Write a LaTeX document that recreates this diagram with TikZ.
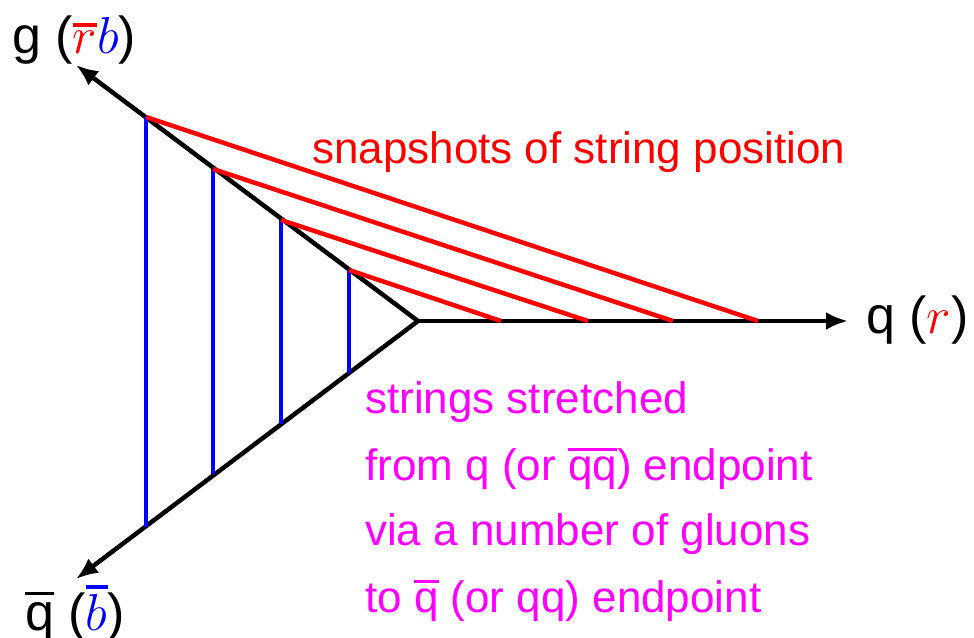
\RequirePackage{fix-cm}
\documentclass[tikz,border=0pt]{standalone}
\usepackage{fontspec}
\setmainfont{Liberation Sans}
\usetikzlibrary{arrows.meta}
\definecolor{pink}{RGB}{255,0,255}
\definecolor{sred}{RGB}{255,0,0}
\definecolor{sblue}{RGB}{0,0,255}
% thick bar over a box, in the colour in force
\newcommand{\ovl}[2][5pt]{\leavevmode\vbox{\hrule height 3.5pt\kern #1\hbox{#2}}}
\tikzset{
  leg/.style={line width=4.5pt,line cap=round,-{Latex[length=22pt,width=18pt]}},
  snap/.style={sred,line width=4.5pt},
  cut/.style={sblue,line width=4pt},
  ends/.style={font=\fontsize{52}{60}\selectfont,inner sep=0pt,anchor=base west},
  note/.style={font=\fontsize{44}{52}\selectfont,inner sep=0pt,anchor=base west},
}
\begin{document}
\begin{tikzpicture}[x=1pt,y=-1pt]
  \useasboundingbox (0,0) rectangle (974,637);
  \coordinate (o) at (418,321);
  \coordinate (qend) at (848,321);
  \coordinate (gend) at (76,65);
  \coordinate (qbend) at (76,579);
  % the three partons leaving the vertex
  \draw[leg] (o) -- (qend);
  \draw[leg] (o) -- (gend);
  \draw[leg] (o) -- (qbend);
  % string snapshots
  \foreach \x/\yu/\yl/\xe [count=\i] in {146/117/527/758, 213/169/474/673, 281/220/424/588, 349/270/373/501} {
    \coordinate (u\i) at (\x,\yu);
    \coordinate (l\i) at (\x,\yl);
    \coordinate (e\i) at (\xe,321);
    \draw[cut] (u\i) -- (l\i);
    \draw[snap] (u\i) -- (e\i);
  }
  % labels
  \node[ends] (glab) at (12,53) {g (\textcolor{sred}{\ovl[4pt]{$r$}}\textcolor{sblue}{$b$})};
  \node[ends] (qlab) at (866,333) {q (\textcolor{sred}{$r$})};
  \node[ends] (qblab) at (25,630) {\ovl[7pt]{q} (\textcolor{sblue}{\ovl{$b$}})};
  \node[note,sred] (snaplab) at (312,163) {snapshots of string position};
  \node[note,pink] (str1) at (365,413) {strings stretched};
  \node[note,pink] (str2) at (365,480) {from q (or \ovl{qq}) endpoint};
  \node[note,pink] (str3) at (365,545) {via a number of gluons};
  \node[note,pink] (str4) at (365,612) {to \ovl{q} (or qq) endpoint};
\end{tikzpicture}
\end{document}
